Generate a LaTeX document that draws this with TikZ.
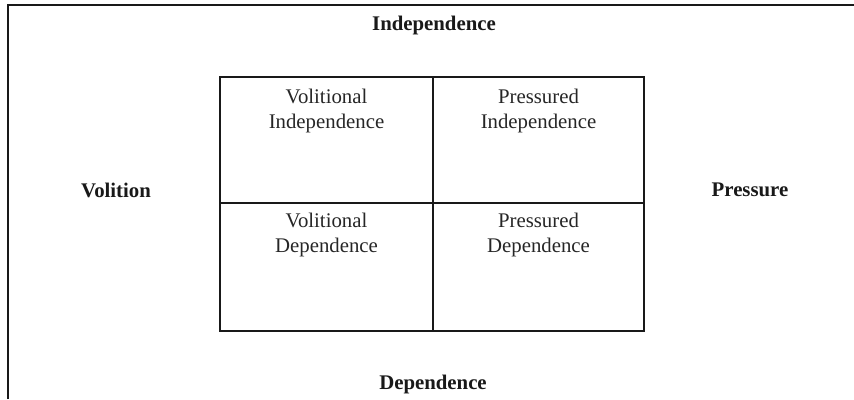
\documentclass[tikz,border=0pt]{standalone}
\usepackage{fontspec}
\setmainfont{Liberation Serif}
\begin{document}
\begin{tikzpicture}[x=1pt,y=1pt,
  frame/.style={line width=2.2pt,draw=black!90},
  grid/.style={line width=2pt,draw=black!90},
  celltext/.style={align=center,font=\fontsize{20.8}{25}\selectfont,text=black!85,inner sep=0pt},
  axislabel/.style={font=\fontsize{20.8}{25}\selectfont\bfseries,text=black!90,inner sep=0pt}]
\useasboundingbox (0,0) rectangle (854,399);
% outer frame (partial)
\coordinate (fbl) at (8,0);
\coordinate (ftl) at (8,394);
\coordinate (ftr) at (854,394);
\draw[frame] (fbl) -- (ftl) -- (ftr);
% grid
\coordinate (gbl) at (220,68);
\coordinate (gtr) at (644,322);
\coordinate (mtop) at (433,322);
\coordinate (mbot) at (433,68);
\coordinate (mleft) at (220,196);
\coordinate (mright) at (644,196);
\draw[grid] (gbl) rectangle (gtr);
\draw[grid] (mtop) -- (mbot);
\draw[grid] (mleft) -- (mright);
% cell texts
\node[celltext] (vi) at (326.5,288) {Volitional\\Independence};
\node[celltext] (pi) at (538.5,288) {Pressured\\Independence};
\node[celltext] (vd) at (326.5,164) {Volitional\\Dependence};
\node[celltext] (pd) at (538.5,164) {Pressured\\Dependence};
% axis labels
\node[axislabel] (ind) at (434,373) {Independence};
\node[axislabel] (vol) at (116,209) {Volition};
\node[axislabel] (pre) at (750,209) {Pressure};
\node[axislabel] (dep) at (433,15) {Dependence};
\end{tikzpicture}
\end{document}
